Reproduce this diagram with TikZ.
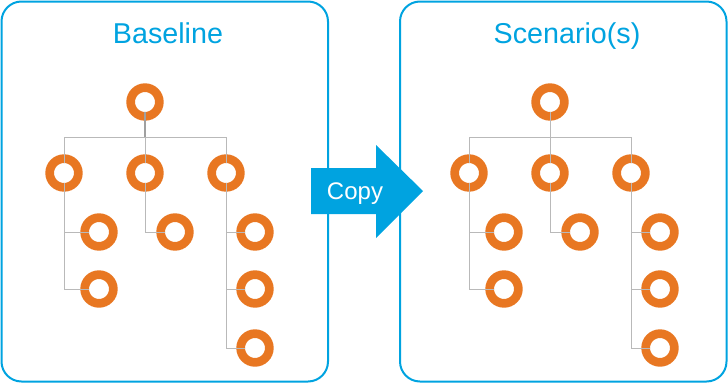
\documentclass[tikz,border=0pt]{standalone}
\usepackage{fontspec}
\setmainfont{Liberation Sans}
\definecolor{boxblue}{RGB}{0,163,224}
\definecolor{nodeorange}{RGB}{232,119,34}
\definecolor{linkgray}{RGB}{185,185,185}
\definecolor{rootgray}{RGB}{160,160,160}

\tikzset{
  panel/.style={draw=boxblue, line width=2pt, rounded corners=20pt},
  ring/.style={circle, draw=nodeorange, line width=8.7pt, minimum size=28.7pt, inner sep=0pt, outer sep=-4.35pt},
  link/.style={draw=linkgray, line width=1pt},
  paneltitle/.style={text=boxblue, font=\fontsize{28.7}{34}\selectfont, anchor=base},
}

\begin{document}
\begin{tikzpicture}[x=1pt, y=-1pt]
\useasboundingbox (0,0) rectangle (728,383);

% Baseline panel
\draw[panel] (1.5,1.5) rectangle (328,381.5);
\node[paneltitle] (basetitle) at (168,43) {Baseline};

% Scenario panel
\draw[panel] (400,1.5) rectangle (726.5,381.5);
\node[paneltitle] (scentitle) at (567,43) {Scenario(s)};

% the same tree in both panels
\foreach \t/\dx/\rw/\rc in {base/0/2/rootgray, scen/405/1/linkgray} {
  \begin{scope}[xshift=\dx]
    \node[ring] (\t-root) at (145,102) {};
    \node[ring] (\t-a) at (64,173) {};
    \node[ring] (\t-b) at (145,173) {};
    \node[ring] (\t-c) at (226,173) {};
    \node[ring] (\t-a1) at (99,232) {};
    \node[ring] (\t-a2) at (99,289) {};
    \node[ring] (\t-b1) at (175,232) {};
    \node[ring] (\t-c1) at (255,232) {};
    \node[ring] (\t-c2) at (255,289) {};
    \node[ring] (\t-c3) at (255,348) {};
    \coordinate (\t-bus) at (145,137);

    % links
    \draw[link, draw=\rc, line width=\rw pt] (\t-root.south) -- (\t-bus);
    \draw[link] (\t-a.north) |- (\t-bus);
    \draw[link] (\t-c.north) |- (\t-bus);
    \draw[link] (\t-b.north) -- (\t-bus);
    \draw[link] (\t-a.south) |- (\t-a1.west);
    \draw[link] (\t-a.south) |- (\t-a2.west);
    \draw[link] (\t-b.south) |- (\t-b1.west);
    \draw[link] (\t-c.south) |- (\t-c1.west);
    \draw[link] (\t-c.south) |- (\t-c2.west);
    \draw[link] (\t-c.south) |- (\t-c3.west);
  \end{scope}
}

% Copy arrow
\fill[boxblue] (311,168) -- (376,168) -- (376,145) -- (423,191) -- (376,238) -- (376,214) -- (311,214) -- cycle;
\node[text=white, font=\fontsize{24}{28}\selectfont, anchor=base] (copy) at (355,199.5) {Copy};
\end{tikzpicture}
\end{document}
